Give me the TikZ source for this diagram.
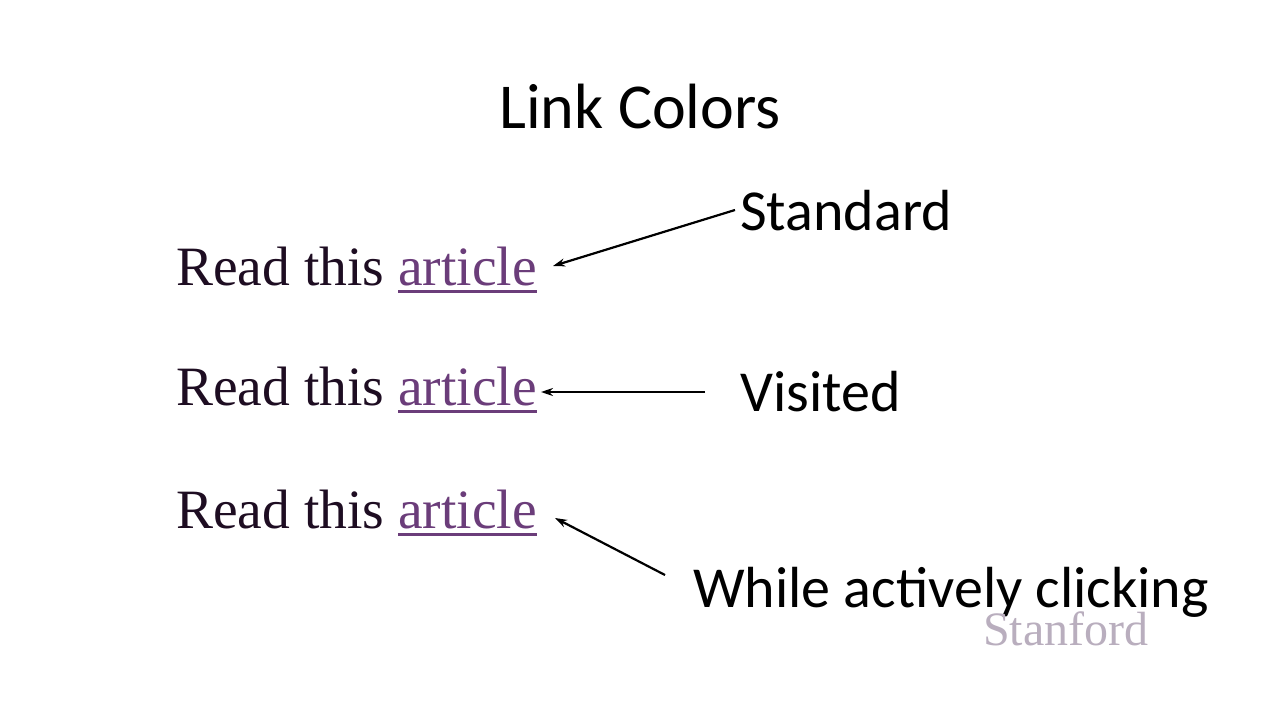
\documentclass[tikz,border=0pt]{standalone}
\usepackage{fontspec}
\setmainfont{Liberation Serif}
\newfontfamily\calib{Carlito}
\usetikzlibrary{arrows.meta}
\definecolor{linkpurple}{HTML}{6B3D7A}
\definecolor{readdark}{HTML}{1E0D22}
\definecolor{stangray}{HTML}{B9AEBE}
\tikzset{
  titletext/.style={inner sep=0pt, anchor=base, font=\calib\fontsize{64}{70}\selectfont},
  labeltext/.style={inner sep=0pt, anchor=base west, font=\calib\fontsize{58}{64}\selectfont},
  readtext/.style={inner sep=0pt, anchor=base west, text=readdark, font=\fontsize{55.5}{60}\selectfont},
  arttext/.style={inner sep=0pt, anchor=base west, text=linkpurple, font=\fontsize{55.5}{60}\selectfont},
  uline/.style={draw=linkpurple, line width=3pt},
  pointer/.style={draw=black, line width=2.2pt, -{Stealth[length=12pt,width=8pt]}},
}
\begin{document}
\begin{tikzpicture}[x=1pt,y=-1pt]
\useasboundingbox[fill=white] (0,0) rectangle (1280,720);
\node[titletext] (title) at (640,128) {Link Colors};
% rows
\node[readtext] (r1) at (176,285) {Read this};
\node[arttext] (a1) at (398,285) {article};
\node[readtext] (r2) at (176,405) {Read this};
\node[arttext] (a2) at (398,405) {article};
\node[readtext] (r3) at (176,528) {Read this};
\node[arttext] (a3) at (398,528) {article};
\draw[uline] (a1.base west) ++(0,6) -- ([yshift=-6pt]a1.base east);
\draw[uline] (a2.base west) ++(0,6) -- ([yshift=-6pt]a2.base east);
\draw[uline] (a3.base west) ++(0,6) -- ([yshift=-6pt]a3.base east);
% labels
\node[labeltext] (std) at (740,230) {Standard};
\node[labeltext] (vis) at (740,411) {Visited};
\node[labeltext] (act) at (693,607) {While actively clicking};
\node[inner sep=0pt, anchor=base west, text=stangray, font=\fontsize{48}{52}\selectfont] (stan) at (983,645) {Stanford};
% tips and tails
\coordinate (t1) at (553,266);
\coordinate (s1) at (735,210);
\coordinate (t2) at (541,392);
\coordinate (s2) at (705,392);
\coordinate (t3) at (555,518);
\coordinate (s3) at (665,575);
\draw[pointer] (s1) -- (t1);
\draw[pointer] (s2) -- (t2);
\draw[pointer] (s3) -- (t3);
\end{tikzpicture}
\end{document}
